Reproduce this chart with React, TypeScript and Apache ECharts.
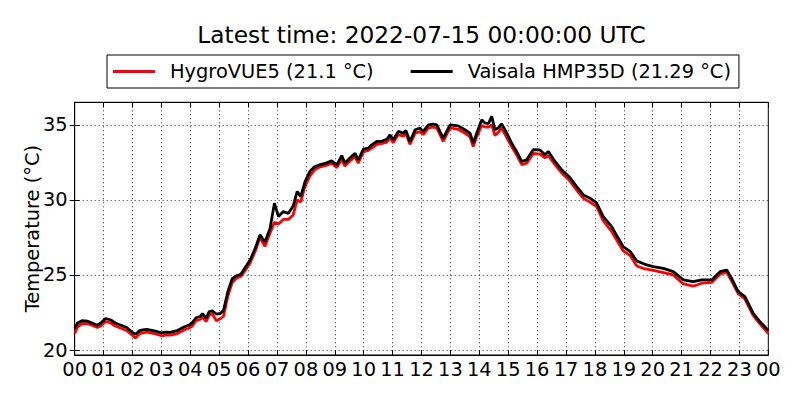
import React, { useEffect, useRef } from "react";
import * as echarts from "echarts";

const titleText = "Latest time: 2022-07-15 00:00:00 UTC";
const seriesNames = ["HygroVUE5 (21.1 °C)", "Vaisala HMP35D (21.29 °C)"];
const seriesColors = ["#ff0000", "#000000"];
const yTicks = [20, 25, 30, 35];
const yMin = 19.67;
const yMax = 36.5;

// hours since 00:00 UTC
const hours = [
  0.0, 0.1, 0.25, 0.45, 0.6, 0.78, 0.9, 1.07, 1.25, 1.4, 1.6, 1.8, 1.95, 2.1, 2.25, 2.35, 2.5, 2.75,
  3.0, 3.15, 3.3, 3.55, 3.8, 3.95, 4.07, 4.2, 4.35, 4.42, 4.55, 4.65, 4.75, 4.9, 5.05, 5.15, 5.3,
  5.45, 5.6, 5.75, 5.9, 6.07, 6.25, 6.41, 6.58, 6.76, 6.91, 7.05, 7.22, 7.39, 7.56, 7.7, 7.82, 7.97,
  8.14, 8.3, 8.5, 8.7, 8.89, 9.07, 9.24, 9.35, 9.53, 9.7, 9.81, 9.99, 10.16, 10.28, 10.45, 10.62,
  10.8, 10.91, 11.02, 11.2, 11.37, 11.46, 11.6, 11.78, 11.95, 12.06, 12.24, 12.4, 12.53, 12.75,
  12.99, 13.27, 13.5, 13.68, 13.79, 13.91, 14.08, 14.2, 14.32, 14.43, 14.54, 14.66, 14.77, 14.95,
  15.12, 15.29, 15.47, 15.64, 15.87, 16.1, 16.27, 16.39, 16.62, 16.85, 17.1, 17.37, 17.6, 17.83,
  18.06, 18.29, 18.58, 18.81, 18.98, 19.22, 19.45, 19.73, 20.02, 20.37, 20.71, 21.06, 21.4, 21.7,
  22.04, 22.33, 22.56, 22.73, 22.96, 23.19, 23.48, 23.71, 24.0,
];

const hygroVUE5 = [
  21.1, 21.55, 21.75, 21.75, 21.65, 21.5, 21.6, 21.9, 21.8, 21.6, 21.45, 21.3, 21.05, 20.8, 21.1, 21.15, 21.2, 21.1,
  20.95, 21.0, 21.0, 21.1, 21.35, 21.45, 21.6, 21.95, 22.05, 22.2, 21.9, 22.3, 22.45, 21.95, 22.1, 22.25, 23.6,
  24.5, 24.8, 24.9, 25.3, 25.8, 26.6, 27.5, 26.9, 27.8, 28.5, 28.4, 28.7, 28.7, 29.0, 30.0, 29.85, 30.9,
  31.6, 32.0, 32.2, 32.3, 32.45, 32.15, 32.7, 32.25, 32.6, 32.9, 32.45, 33.2, 33.3, 33.45, 33.7, 33.75,
  33.85, 34.15, 33.8, 34.35, 34.25, 34.4, 33.7, 34.45, 34.55, 34.35, 34.8, 34.85, 34.8, 33.9,
  34.8, 34.7, 34.45, 34.2, 33.55, 34.2, 34.95, 34.85, 34.85, 35.0, 34.3, 34.5, 34.8, 34.15,
  33.55, 33.0, 32.35, 32.45, 33.1, 33.05, 32.8, 32.95, 32.35, 31.8, 31.35, 30.65, 30.1, 29.85,
  29.55, 28.6, 27.9, 27.15, 26.6, 26.3, 25.6, 25.4, 25.3, 25.15, 25.0, 24.4, 24.25, 24.45,
  24.5, 25.05, 25.2, 24.6, 23.75, 23.4, 22.3, 21.75, 21.1,
];

const vaisalaHMP35D = [
  21.45, 21.8, 21.95, 21.92, 21.8, 21.65, 21.8, 22.1, 22.0, 21.8, 21.65, 21.5, 21.25, 21.05, 21.3, 21.35, 21.38, 21.27,
  21.15, 21.2, 21.18, 21.3, 21.55, 21.65, 21.82, 22.15, 22.25, 22.42, 22.12, 22.55, 22.62, 22.4, 22.45, 22.65, 23.9,
  24.75, 24.95, 25.05, 25.5, 26.0, 26.8, 27.67, 27.2, 28.1, 29.78, 28.9, 29.22, 29.1, 29.6, 30.56, 30.22, 31.22,
  31.9, 32.2, 32.35, 32.45, 32.6, 32.33, 32.95, 32.45, 32.8, 33.1, 32.67, 33.38, 33.44, 33.67, 33.89, 33.9,
  34.04, 34.33, 34.0, 34.56, 34.44, 34.62, 33.89, 34.67, 34.78, 34.56, 35.0, 35.05, 35.0, 34.11,
  35.0, 34.93, 34.67, 34.44, 33.78, 34.44, 35.33, 35.11, 35.1, 35.56, 34.67, 34.8, 35.07, 34.44,
  33.78, 33.22, 32.56, 32.67, 33.35, 33.33, 33.0, 33.22, 32.56, 32.0, 31.56, 30.89, 30.33, 30.11,
  29.78, 28.89, 28.22, 27.44, 26.89, 26.56, 25.93, 25.71, 25.56, 25.44, 25.22, 24.67, 24.56, 24.67,
  24.67, 25.22, 25.33, 24.78, 23.89, 23.56, 22.44, 21.89, 21.3,
];

const FONT = "DejaVu Sans";
const FS = 19.4;

export default function App() {
  const ref = useRef<HTMLDivElement>(null);

  useEffect(() => {
    document.body.style.margin = "0";
    const chart = echarts.init(ref.current!, null, { renderer: "svg" });
    const grid = { left: 74.7, top: 102.3, right: 31.7, bottom: 45 };
    const pair = (vals: number[]) => hours.map((h, i) => [h, vals[i]]);
    const hourFmt = (v: number) => String(Math.round(v) % 24).padStart(2, "0");

    const option: any = {
      animation: false,
      backgroundColor: "#ffffff",
      textStyle: { fontFamily: FONT },
      graphic: [
        {
          type: "text",
          x: 421.5,
          y: 34.5,
          style: {
            text: titleText,
            fontFamily: FONT,
            fontSize: 23.3,
            fill: "#000",
            textAlign: "center",
            textVerticalAlign: "middle",
          },
        },
      ],
      legend: {
        left: 107,
        top: 55,
        orient: "horizontal",
        borderColor: "#000",
        borderWidth: 1,
        borderRadius: 0,
        padding: [7, 8, 7, 6],
        itemGap: 37,
        itemWidth: 42,
        itemHeight: 3,
        icon: "rect",
        textStyle: { fontFamily: FONT, fontSize: FS, color: "#000", padding: [0, 0, 0, 10] },
        data: seriesNames,
      },
      grid: { ...grid, show: true, borderColor: "#000", borderWidth: 1, backgroundColor: "transparent" },
      xAxis: [
        {
          type: "value",
          min: 0,
          max: 24,
          interval: 1,
          position: "bottom",
          axisLine: { show: true, lineStyle: { color: "#000", width: 1 } },
          axisTick: { show: true, inside: true, length: 5, lineStyle: { color: "#000" } },
          axisLabel: { color: "#000", fontFamily: FONT, fontSize: FS, margin: 5, formatter: hourFmt },
          splitLine: { show: true, lineStyle: { color: "#333", width: 1, type: [1, 3] } },
        },
        {
          type: "value",
          min: 0,
          max: 24,
          interval: 1,
          position: "top",
          axisLine: { show: true, lineStyle: { color: "#000", width: 1 } },
          axisTick: { show: true, inside: true, length: 5, lineStyle: { color: "#000" } },
          axisLabel: { show: false },
          splitLine: { show: false },
        },
      ],
      yAxis: [
        {
          type: "value",
          min: yMin,
          max: yMax,
          position: "left",
          name: "Temperature (°C)",
          nameLocation: "middle",
          nameGap: 33,
          nameMoveOverlap: false,
          nameTextStyle: { fontFamily: FONT, fontSize: FS, color: "#000" },
          axisLine: { show: true, lineStyle: { color: "#000", width: 1 } },
          axisTick: { show: true, inside: true, length: 5, customValues: yTicks, lineStyle: { color: "#000" } },
          axisLabel: { color: "#000", fontFamily: FONT, fontSize: FS, margin: 7, customValues: yTicks },
          splitLine: { show: true, lineStyle: { color: "#333", width: 1, type: [1, 3] } },
        },
        {
          type: "value",
          min: yMin,
          max: yMax,
          position: "right",
          axisLine: { show: true, lineStyle: { color: "#000", width: 1 } },
          axisTick: { show: true, inside: true, length: 5, customValues: yTicks, lineStyle: { color: "#000" } },
          axisLabel: { show: false, customValues: yTicks },
          splitLine: { show: false },
        },
      ],
      series: [
        {
          name: seriesNames[0],
          type: "line",
          xAxisIndex: 0,
          yAxisIndex: 0,
          data: pair(hygroVUE5),
          showSymbol: false,
          color: seriesColors[0],
          lineStyle: { color: seriesColors[0], width: 2.8 },
          z: 2,
        },
        {
          name: seriesNames[1],
          type: "line",
          xAxisIndex: 0,
          yAxisIndex: 0,
          data: pair(vaisalaHMP35D),
          showSymbol: false,
          color: seriesColors[1],
          lineStyle: { color: seriesColors[1], width: 2.8 },
          z: 3,
        },
      ],
    };
    chart.setOption(option);
    return () => chart.dispose();
  }, []);

  return <div ref={ref} style={{ width: 800, height: 400 }} />;
}
